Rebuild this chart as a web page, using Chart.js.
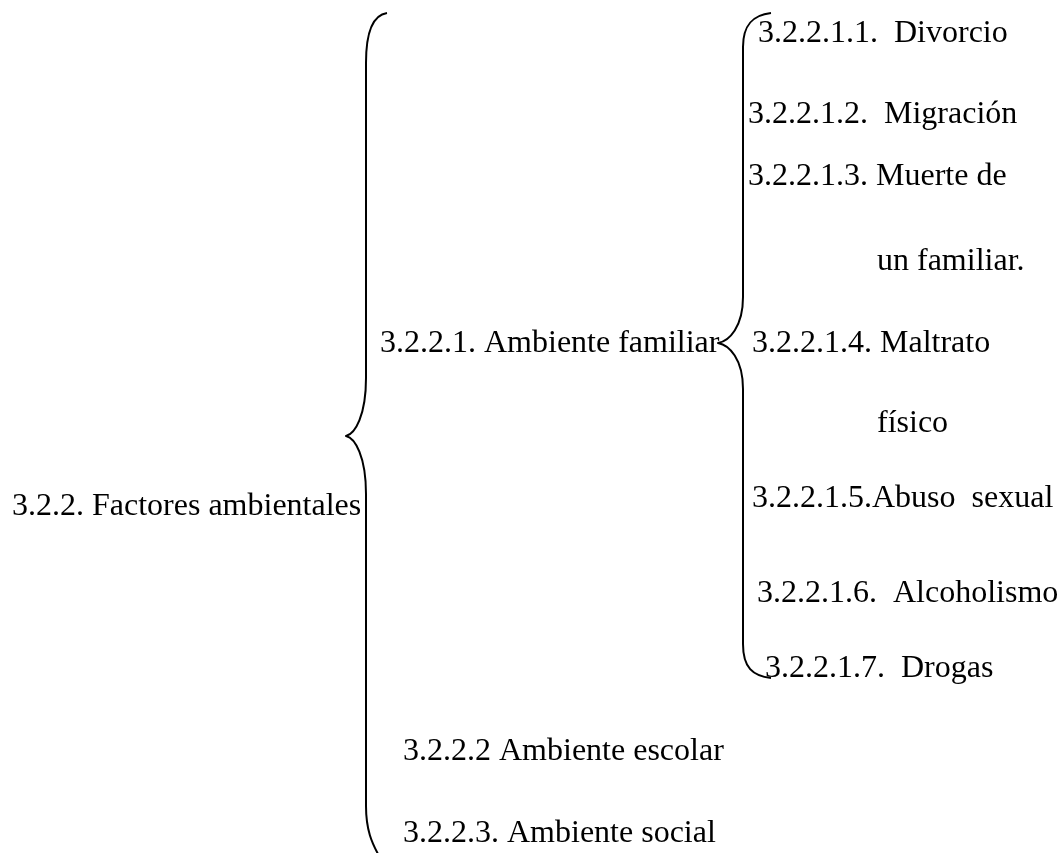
<!DOCTYPE html>
<html lang="es">
<head>
<meta charset="utf-8">
<title>3.2.2. Factores ambientales</title>
<script src="https://cdn.jsdelivr.net/npm/chart.js@4.4.1/dist/chart.umd.min.js"></script>
<style>
  html, body { margin: 0; padding: 0; background: #fff; }
  #wrap { width: 1063px; height: 853px; position: relative; }
</style>
</head>
<body>
<div id="wrap"><canvas id="diagram"></canvas></div>
<script>
/* Diagram content: one entry per text line */
const labels = [
  '3.2.2. Factores ambientales',
  '3.2.2.1. Ambiente familiar',
  '3.2.2.1.1.  Divorcio',
  '3.2.2.1.2.  Migración',
  '3.2.2.1.3. Muerte de',
  'un familiar.',
  '3.2.2.1.4. Maltrato',
  'físico',
  '3.2.2.1.5.Abuso  sexual',
  '3.2.2.1.6.  Alcoholismo',
  '3.2.2.1.7.  Drogas',
  '3.2.2.2 Ambiente escolar',
  '3.2.2.3. Ambiente social'
];
// left edge and baseline of each line, in page units
const labelX = [12, 380, 758, 748, 748, 877, 752, 877, 752, 757, 765, 403, 403];
const labelY = [515, 352, 42, 123, 185, 270, 352, 432, 507, 602, 677, 760, 842];

/* Braces: vertical stem, tip, hooked ends */
const braceStemX = [366, 743];
const braceTipX  = [346, 718];
const braceTopEndX = [387, 771];
const braceBottomEndX = [379, 771];
const braceTop   = [13, 13];
const braceTip   = [436, 343];
const braceBottom = [856, 678];

const bracePlugin = {
  id: 'braces',
  afterDatasetsDraw(chart) {
    const { ctx, scales: { x, y } } = chart;
    ctx.save();
    ctx.strokeStyle = '#000';
    ctx.lineWidth = 2;
    ctx.lineJoin = 'round';
    braceStemX.forEach((sx, i) => {
      const vx = x.getPixelForValue(sx);
      const tx = x.getPixelForValue(braceTipX[i]);
      const ex0 = x.getPixelForValue(braceTopEndX[i]);
      const ex1 = x.getPixelForValue(braceBottomEndX[i]);
      const y0 = y.getPixelForValue(braceTop[i]);
      const ym = y.getPixelForValue(braceTip[i]);
      const y1 = y.getPixelForValue(braceBottom[i]);
      const r = i === 0 ? 50 : 34;
      const rt = i === 0 ? 58 : 46;
      ctx.beginPath();
      ctx.moveTo(ex0, y0);
      ctx.bezierCurveTo(vx + (ex0 - vx) * 0.35, y0 + 2, vx, y0 + r * 0.35, vx, y0 + r);
      ctx.lineTo(vx, ym - rt);
      ctx.bezierCurveTo(vx, ym - rt * 0.35, tx + (vx - tx) * 0.45, ym - 2, tx, ym);
      ctx.bezierCurveTo(tx + (vx - tx) * 0.45, ym + 2, vx, ym + rt * 0.35, vx, ym + rt);
      ctx.lineTo(vx, y1 - r);
      if (i === 0) {
        // long stem: soft slanted finish
        ctx.bezierCurveTo(vx, y1 - r * 0.45, ex1 - 5, y1 - 10, ex1, y1);
      } else {
        ctx.bezierCurveTo(vx, y1 - r * 0.3, vx + (ex1 - vx) * 0.35, y1 - 2, ex1, y1);
      }
      ctx.stroke();
    });
    ctx.restore();
  }
};

const textPlugin = {
  id: 'lineText',
  afterDatasetsDraw(chart) {
    const { ctx } = chart;
    const meta = chart.getDatasetMeta(0);
    ctx.save();
    ctx.fillStyle = '#000';
    ctx.font = '32px "Liberation Serif", "Times New Roman", serif';
    ctx.textAlign = 'left';
    ctx.textBaseline = 'alphabetic';
    meta.data.forEach((pt, i) => {
      ctx.fillText(labels[i], pt.x, pt.y);
    });
    ctx.restore();
  }
};

new Chart(document.getElementById('diagram'), {
  type: 'scatter',
  data: {
    datasets: [{
      data: labels.map((t, i) => ({ x: labelX[i], y: labelY[i] })),
      pointRadius: 0,
      pointHoverRadius: 0
    }]
  },
  options: {
    responsive: true,
    maintainAspectRatio: false,
    animation: false,
    events: [],
    layout: { padding: 0 },
    plugins: { legend: { display: false }, tooltip: { enabled: false } },
    scales: {
      x: { type: 'linear', min: 0, max: 1063, display: false },
      y: { type: 'linear', min: 0, max: 853, reverse: true, display: false }
    }
  },
  plugins: [bracePlugin, textPlugin]
});
</script>
</body>
</html>
